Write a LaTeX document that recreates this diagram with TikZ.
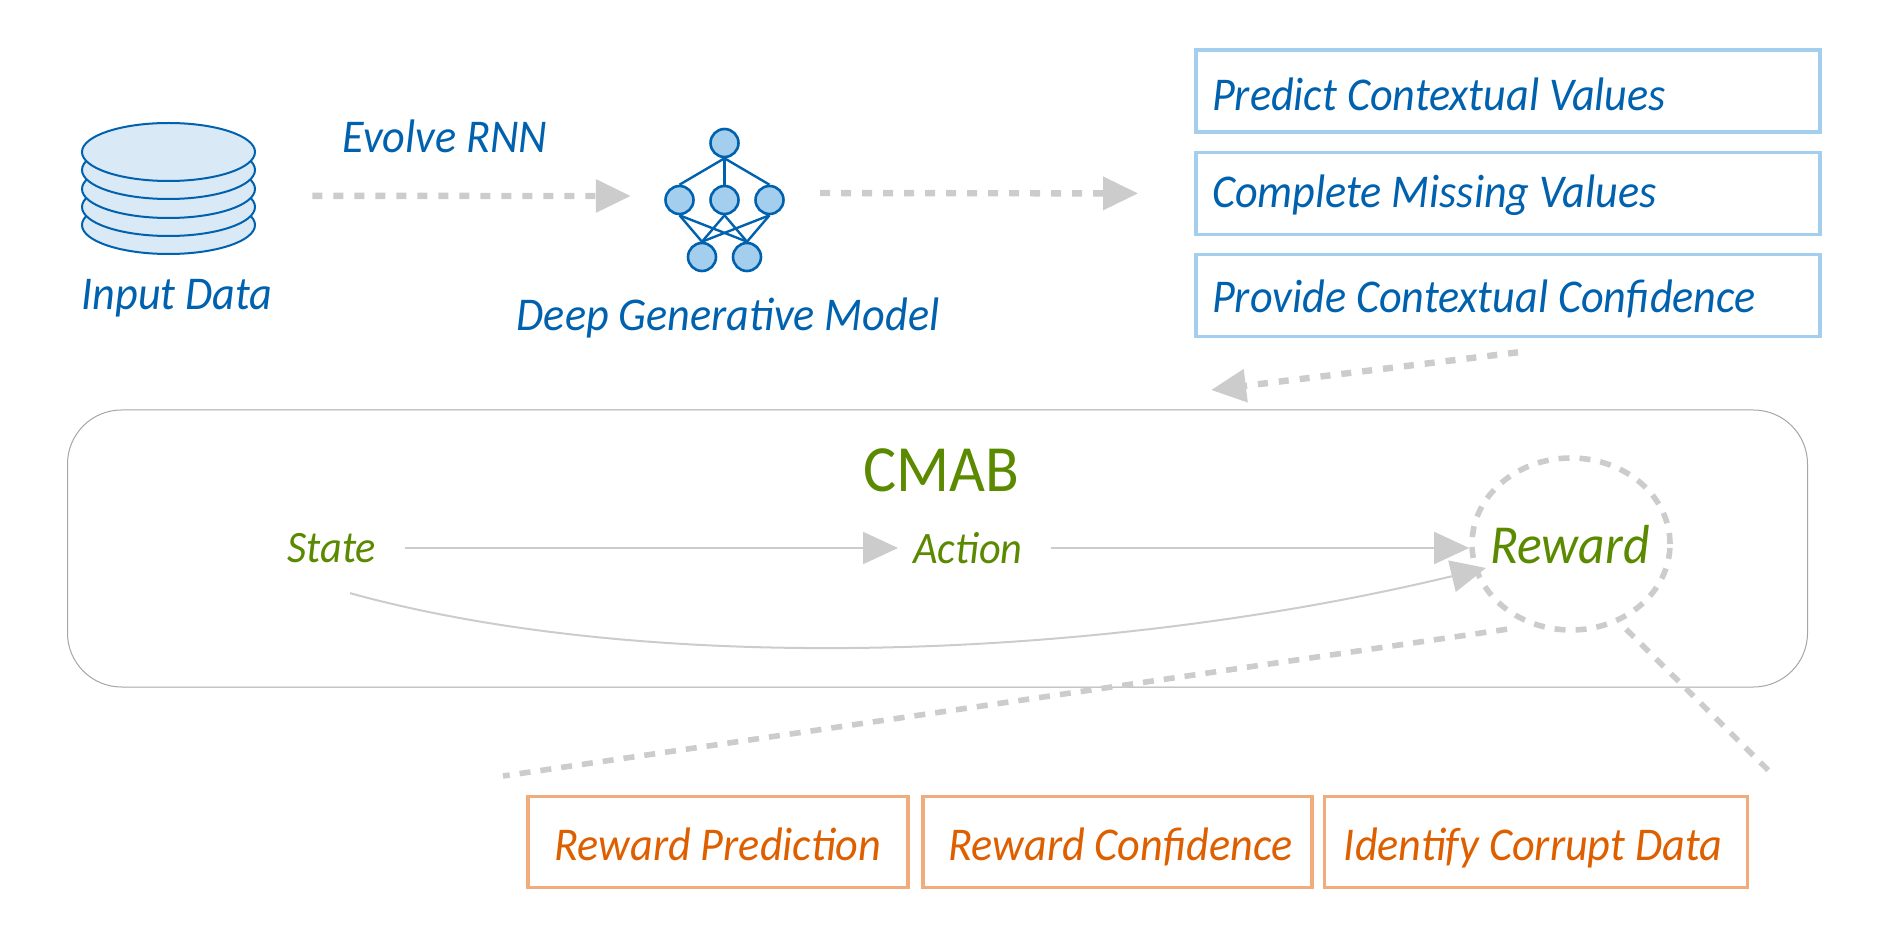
\documentclass[tikz,border=0pt]{standalone}
\usepackage{fontspec}
\setmainfont[FakeStretch=0.94]{Carlito}
\usetikzlibrary{arrows.meta,shapes.geometric,fit}
\definecolor{bluetxt}{HTML}{0061AE}
\definecolor{blueline}{HTML}{A3CEEE}
\definecolor{bluefill}{HTML}{DAE9F6}
\definecolor{greentxt}{HTML}{5B8A00}
\definecolor{orangetxt}{HTML}{DE5F00}
\definecolor{orangeline}{HTML}{F0AC7C}
\definecolor{flowgray}{HTML}{CCCCCC}
\newcommand{\leftbox}[1]{\makebox[296pt][l]{#1}}
\tikzset{
  disc/.style={ellipse,draw=bluetxt,fill=bluefill,line width=1pt,minimum width=86.5pt,minimum height=29pt,inner sep=0pt},
  neuron/.style={circle,draw=bluetxt,fill=blueline,line width=1.3pt,minimum size=14pt,inner sep=0pt},
  synapse/.style={draw=bluetxt,line width=1.2pt},
  bluetext/.style={text=bluetxt,font=\fontsize{23.5}{28}\selectfont\itshape,inner sep=0pt},
  greentext/.style={text=greentxt,font=\fontsize{22.5}{28}\selectfont\itshape,inner sep=0pt},
  contextbox/.style={draw=blueline,line width=1.8pt,minimum width=312pt,minimum height=41pt,text height=22pt,text depth=5pt,inner sep=0pt,text=bluetxt,font=\fontsize{23.5}{28}\selectfont\itshape},
  rewardbox/.style={draw=orangeline,line width=1.8pt,minimum height=45.5pt,text height=23pt,text depth=5pt,inner sep=0pt,text=orangetxt,font=\fontsize{23.5}{28}\selectfont\itshape},
  dashflow/.style={draw=flowgray,line width=3.2pt,dash pattern=on 5pt off 5.5pt,-{Triangle[length=17.5pt,width=16pt,fill=flowgray]}},
  dashline/.style={draw=flowgray,line width=2.8pt,dash pattern=on 5.5pt off 5pt},
  thinflow/.style={draw=flowgray,line width=1pt,-{Triangle[length=17.5pt,width=16pt,fill=flowgray]}}
}
\begin{document}
\begin{tikzpicture}[x=.5pt,y=-.5pt]
\useasboundingbox (0,0) rectangle (1886,946);
\foreach \n/\y in {5/225,4/207,3/189,2/170,1/152}
\node[disc] (db\n) at (168.5,\y) {};
\node[fit=(db1)(db5),inner sep=0pt] (data) {};
\node[bluetext] (inputlabel) at (177,298.5) {Input Data};
\node[bluetext] (evolvelabel) at (445,136) {Evolve RNN};
\node[neuron] (top) at (724.5,143) {};
\foreach \n/\x in {1/679.5,2/724.5,3/769.5}
\node[neuron] (mid\n) at (\x,200) {};
\foreach \n/\x in {1/702,2/747}
\node[neuron] (low\n) at (\x,257) {};
\foreach \n in {1,2,3}
\draw[synapse] (top.south) -- (mid\n.north);
\foreach \n in {1,2,3}
\foreach \m in {1,2}
\draw[synapse] (mid\n.south) -- (low\m.north);
\node[fit=(top)(mid1)(mid3)(low1),inner sep=0pt] (net) {};
\node[bluetext] (netlabel) at (728,317.5) {Deep Generative Model};
\node[contextbox,text height=24.4pt] (predict) at (1508,91) {\leftbox{Predict Contextual Values}};
\node[contextbox,text height=19.2pt] (complete) at (1508,193.5) {\leftbox{Complete Missing Values}};
\node[contextbox] (provide) at (1508,295.5) {\leftbox{Provide Contextual Confidence}};
\draw[dashflow,shorten <=28pt,shorten >=16.5pt] ([yshift=-3.7pt]data.east) -- ([yshift=2pt]net.west);
\draw[dashflow,shorten <=17.5pt,shorten >=28pt] ([yshift=3.5pt]net.east) -- (complete.west);
\node[draw=black!35,line width=.5pt,rounded corners=27pt,minimum width=870pt,minimum height=138.5pt,inner sep=0pt] (cmab) at (937.5,548.5) {};
\node[text=greentxt,font=\fontsize{33}{38}\selectfont,inner sep=0pt] (cmabtitle) at (941,470) {CMAB};
\coordinate (cmabin) at (1211,390);
\draw[dashflow] ([xshift=5pt,yshift=-7pt]provide.south) -- (cmabin);
\node[greentext] (state) at (332,548) {State};
\node[greentext] (action) at (968,548) {Action};
\node[ellipse,draw=flowgray,line width=2.8pt,dash pattern=on 5.5pt off 5pt,minimum width=99pt,minimum height=86pt,inner sep=0pt] (rewardring) at (1571,544) {};
\node[text=greentxt,font=\fontsize{27.5}{34}\selectfont\itshape,inner sep=0pt] (reward) at (1570,545) {Reward};
\draw[thinflow,shorten <=14pt,shorten >=7.5pt] (state) -- (action);
\draw[thinflow,shorten <=14pt] (action) -- ([yshift=-2pt]rewardring.west);
\draw[thinflow] ([xshift=9pt,yshift=-15pt]state.south) .. controls (650,676) and (1100,661) .. (1486,568);
\node[rewardbox,minimum width=190pt] (rewardpred) at (718,842) {Reward Prediction};
\node[rewardbox,minimum width=194.5pt] (rewardconf) at (1117.5,842) {\hspace*{3pt}Reward Confidence};
\node[rewardbox,minimum width=211.5pt] (corrupt) at (1536,842) {Identify Corrupt Data\hspace*{3pt}};
\coordinate (leftend) at (503,776);
\coordinate (rightend) at (1770,772);
\draw[dashline] ([shift={(-4pt,-5.5pt)}]rewardring.233) -- (leftend);
\draw[dashline] ([shift={(2.5pt,-4pt)}]rewardring.303) -- (rightend);
\end{tikzpicture}
\end{document}
